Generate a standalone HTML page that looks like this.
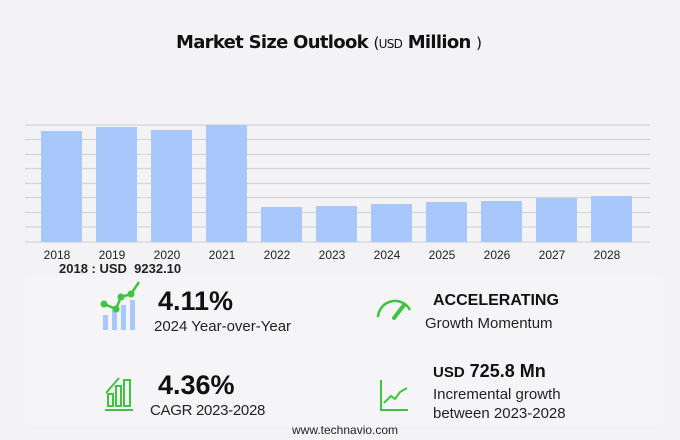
<!DOCTYPE html><html><head><style>
body{margin:0;width:680px;height:440px;background:#f3f3f5;font-family:"Liberation Sans",sans-serif;position:relative;overflow:hidden}
.t{position:absolute;white-space:nowrap;color:#111}
</style></head><body>
<div style="position:absolute;left:28px;top:276px;width:632px;height:150px;background:#f5f5f7"></div>
<div class="t" style="left:176px;top:32px;font-size:18px;font-weight:bold;font-family:'DejaVu Sans',sans-serif;letter-spacing:-0.7px">Market Size Outlook <span style="font-weight:normal;font-size:15px">(</span><span style="font-size:12px;font-weight:normal">USD</span> Million <span style="font-weight:normal;font-size:15px">)</span></div>
<svg style="position:absolute;left:0;top:0" width="680" height="280">
<g stroke="#d4d4d8" stroke-width="1.2">
<line x1="25" x2="650" y1="125" y2="125"/><line x1="25" x2="650" y1="139.5" y2="139.5"/><line x1="25" x2="650" y1="154.5" y2="154.5"/><line x1="25" x2="650" y1="168.5" y2="168.5"/><line x1="25" x2="650" y1="183.5" y2="183.5"/><line x1="25" x2="650" y1="197.5" y2="197.5"/><line x1="25" x2="650" y1="212.5" y2="212.5"/><line x1="25" x2="650" y1="227" y2="227"/><line x1="25" x2="650" y1="242" y2="242"/></g>
<g fill="#a8c8fc">
<rect x="41" y="131" width="41" height="111"/><rect x="96" y="127" width="41" height="115"/><rect x="151" y="130" width="41" height="112"/><rect x="206" y="125" width="41" height="117"/><rect x="261" y="207" width="41" height="35"/><rect x="316" y="206" width="41" height="36"/><rect x="371" y="204" width="41" height="38"/><rect x="426" y="202" width="41" height="40"/><rect x="481" y="201" width="41" height="41"/><rect x="536" y="198" width="41" height="44"/><rect x="591" y="196" width="41" height="46"/></g>
<g font-size="12" fill="#222" text-anchor="middle" font-family="Liberation Sans">
<text x="57" y="259">2018</text><text x="112" y="259">2019</text><text x="167" y="259">2020</text><text x="222" y="259">2021</text><text x="277" y="259">2022</text><text x="332" y="259">2023</text><text x="387" y="259">2024</text><text x="442" y="259">2025</text><text x="497" y="259">2026</text><text x="552" y="259">2027</text><text x="607" y="259">2028</text></g>
<text x="59" y="273" font-size="13" font-weight="bold" fill="#222">2018 : USD&#160; 9232.10</text>
</svg>
<svg style="position:absolute;left:0;top:280px" width="680" height="160">
<g fill="#a8c8fc"><rect x="103" y="35" width="5" height="15"/><rect x="112" y="30" width="5" height="20"/><rect x="121" y="25" width="5" height="25"/><rect x="130" y="20" width="5" height="30"/></g>
<polyline points="104,24 116,29 121,17 131,14 139,2" fill="none" stroke="#3ec43e" stroke-width="2.5"/>
<g fill="#3ec43e"><circle cx="104" cy="24" r="3.5"/><circle cx="116" cy="29" r="3.5"/><circle cx="121" cy="17" r="3.5"/><circle cx="131" cy="14" r="3.5"/></g>
<path d="M378,37 A17,17 0 0 1 410,30" fill="none" stroke="#3ec43e" stroke-width="2.5"/>
<line x1="394" y1="38" x2="404" y2="25" stroke="#3ec43e" stroke-width="4" stroke-linecap="round"/>
<g fill="none" stroke="#3ec43e" stroke-width="2"><line x1="105" y1="130" x2="133" y2="130"/><rect x="108" y="114" width="5" height="12"/><rect x="116" y="106" width="5" height="20"/><rect x="124" y="100" width="6" height="26"/><line x1="106" y1="113" x2="119" y2="98"/></g>
<g fill="none" stroke="#3ec43e" stroke-width="2"><polyline points="381,100 381,130 408,130"/><polyline points="384,123 391,116 395,119 400,112 407,108"/></g>
</svg>
<div class="t" style="left:158px;top:286px;font-size:27px;font-weight:bold">4.11%</div>
<div class="t" style="left:154px;top:318px;font-size:15px;color:#222">2024 Year-over-Year</div>
<div class="t" style="left:433px;top:292px;font-size:16px;font-weight:bold">ACCELERATING</div>
<div class="t" style="left:425px;top:315px;font-size:15px;color:#222">Growth Momentum</div>
<div class="t" style="left:158px;top:370px;font-size:27px;font-weight:bold">4.36%</div>
<div class="t" style="left:150px;top:402px;font-size:15px;color:#222;letter-spacing:-0.3px">CAGR 2023-2028</div>
<div class="t" style="left:433px;top:361px;font-size:18px;font-weight:bold"><span style="font-size:15px">USD</span> 725.8 Mn</div>
<div class="t" style="left:433px;top:386px;font-size:15px;color:#222">Incremental growth</div>
<div class="t" style="left:433px;top:405px;font-size:15px;color:#222">between 2023-2028</div>
<div class="t" style="left:292px;top:423px;font-size:12px;color:#222">www.technavio.com</div>
</body></html>
